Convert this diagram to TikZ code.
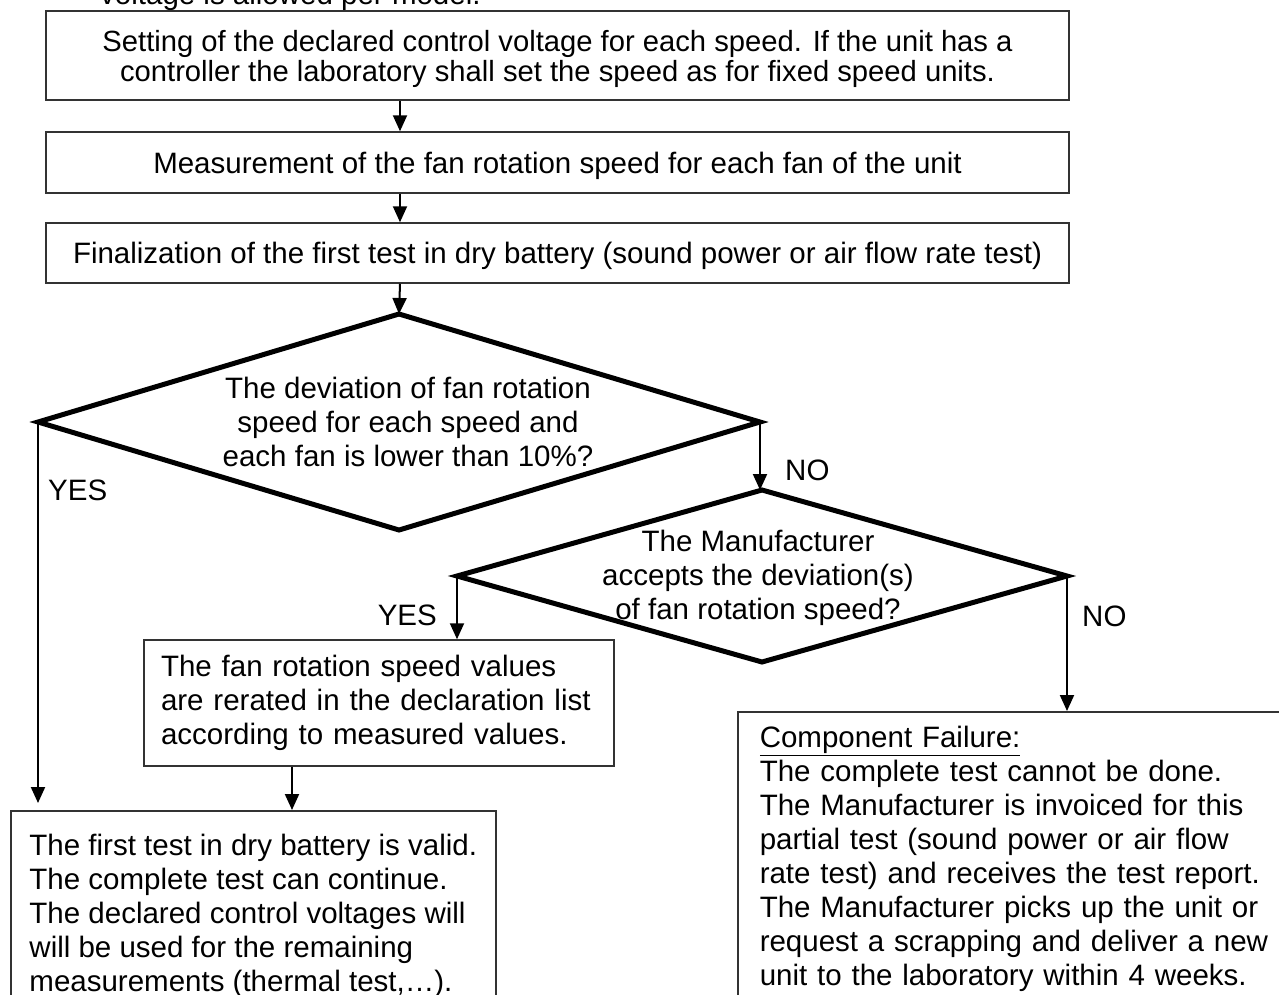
\documentclass[tikz,border=0pt]{standalone}
\usepackage{fontspec}
\setmainfont{Liberation Sans}
\usetikzlibrary{arrows.meta,shapes.geometric}
\begin{document}
\begin{tikzpicture}[x=1pt,y=-1pt,
  every node/.style={font=\fontsize{29.5}{34}\selectfont},
  box/.style={draw=black!80, line width=1.5pt, inner sep=0pt, align=center, text depth=0pt},
  lbox/.style={draw=black!80, line width=1.5pt, inner sep=0pt, align=left},
  dia/.style={draw, diamond, line width=5pt, inner sep=0pt, outer sep=0pt},
  conn/.style={line width=2pt, -{Triangle[length=16pt,width=14pt]}},
  lbl/.style={inner sep=0pt}]
\useasboundingbox (0,0) rectangle (1279,994);

\node[lbl, anchor=base west] (topnote) at (100,4) {voltage is allowed per model.};

\node[box, minimum width=1023pt, minimum height=89pt, font=\fontsize{29.2}{30}\selectfont] (b1) at (557.5,55.5)
  {Setting of the declared control voltage for each speed. If the unit has a\\controller the laboratory shall set the speed as for fixed speed units.};
\node[box, minimum width=1023pt, minimum height=61pt] (b2) at (557.5,162.5)
  {Measurement of the fan rotation speed for each fan of the unit};
\node[box, minimum width=1023pt, minimum height=60pt] (b3) at (557.5,253)
  {Finalization of the first test in dry battery (sound power or air flow rate test)};

\coordinate (ax) at (400,0);
\coordinate (mx) at (292,0);

\node[dia, minimum width=722pt, minimum height=216pt] (d1) at (399,422) {};
\node[lbl, align=center] (t1) at (408,422)
  {The deviation of fan rotation\\speed for each speed and\\each fan is lower than 10\%?};

\node[dia, minimum width=610pt, minimum height=172pt] (d2) at (762,576) {};
\node[lbl, align=center] (t2) at (758,578)
  {The Manufacturer\\accepts the deviation(s)\\of fan rotation speed?};

\node[lbox, minimum width=470pt, minimum height=126pt, inner xsep=17pt, text width=436pt] (mid) at (379,703)
  {The fan rotation speed values\\are rerated in the declaration list\\according to measured values.};

\node[lbox, anchor=north west, minimum width=485pt, minimum height=210pt] (bl) at (10,810)
  {The first test in dry battery is valid.\\The complete test can continue.\\The declared control voltages will\\will be used for the remaining\\measurements (thermal test,…).};

\node[lbox, anchor=north west, minimum width=600pt, minimum height=294pt, inner xsep=22pt, text width=556pt] (cf) at (737,711)
  {\underline{Component Failure:}\\The complete test cannot be done.\\The Manufacturer is invoiced for this\\partial test (sound power or air flow\\rate test) and receives the test report.\\The Manufacturer picks up the unit or\\request a scrapping and deliver a new\\unit to the laboratory within 4 weeks.};

\node[lbl, anchor=west] (yes1) at (48,490) {YES};
\node[lbl, anchor=west] (no1) at (785,470) {NO};
\node[lbl, anchor=east] (yes2) at (437,615) {YES};
\node[lbl, anchor=west] (no2) at (1082,616) {NO};

\draw[conn] (b1.south -| ax) -- (b2.north -| ax);
\draw[conn] (b2.south -| ax) -- (b3.north -| ax);
\draw[conn] (b3.south -| ax) -- (d1.north);
\draw[conn] (d1.east) -- (d1.east |- d2.north);
\draw[conn, shorten >=7pt] (d1.west) -- (d1.west |- bl.north);
\draw[conn] (d2.west) -- (d2.west |- mid.north);
\draw[conn] (mid.south -| mx) -- (bl.north -| mx);
\draw[conn] (d2.east) -- (d2.east |- cf.north);
\end{tikzpicture}
\end{document}
